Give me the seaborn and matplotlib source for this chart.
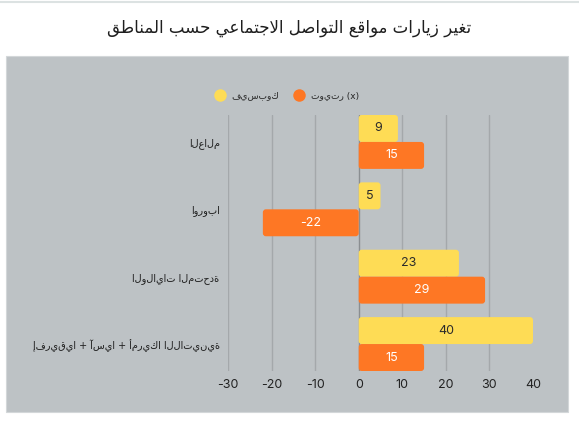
import matplotlib
matplotlib.use("Agg")
import matplotlib.pyplot as plt
import numpy as np
import pandas as pd
import seaborn as sns
from matplotlib.lines import Line2D
from matplotlib.patches import FancyBboxPatch, Rectangle

# Data
regions = ["العالم", "اوروبا", "الولايات المتحدة", "إفريقيا + آسيا + أمريكا اللاتينية"]
series_names = ["فيسبوك", "تويتر (x)"]
facebook = [9, 5, 23, 40]
twitter = [15, -22, 29, 15]
x_ticks = [-30, -20, -10, 0, 10, 20, 30, 40]
title = "تغير زيارات مواقع التواصل الاجتماعي حسب المناطق"

colors = ["#FEDC55", "#FE7724"]
panel_color = "#BDC2C5"

# -------------------------------------------------------------------------
# Minimal Arabic shaping for the title (presentation forms, visual order)
# -------------------------------------------------------------------------
FORMS = {  # isolated, final, initial, medial
    "ا": (0xFE8D, 0xFE8E, None, None), "ب": (0xFE8F, 0xFE90, 0xFE91, 0xFE92),
    "ت": (0xFE95, 0xFE96, 0xFE97, 0xFE98), "ج": (0xFE9D, 0xFE9E, 0xFE9F, 0xFEA0),
    "ح": (0xFEA1, 0xFEA2, 0xFEA3, 0xFEA4), "ر": (0xFEAD, 0xFEAE, None, None),
    "ز": (0xFEAF, 0xFEB0, None, None), "س": (0xFEB1, 0xFEB2, 0xFEB3, 0xFEB4),
    "ص": (0xFEB9, 0xFEBA, 0xFEBB, 0xFEBC), "ط": (0xFEC1, 0xFEC2, 0xFEC3, 0xFEC4),
    "ع": (0xFEC9, 0xFECA, 0xFECB, 0xFECC), "غ": (0xFECD, 0xFECE, 0xFECF, 0xFED0),
    "ق": (0xFED5, 0xFED6, 0xFED7, 0xFED8), "ل": (0xFEDD, 0xFEDE, 0xFEDF, 0xFEE0),
    "م": (0xFEE1, 0xFEE2, 0xFEE3, 0xFEE4), "ن": (0xFEE5, 0xFEE6, 0xFEE7, 0xFEE8),
    "و": (0xFEED, 0xFEEE, None, None), "ي": (0xFEF1, 0xFEF2, 0xFEF3, 0xFEF4),
    "لا": (0xFEFB, 0xFEFC, None, None),
}


def shape_arabic(text):
    words = []
    for word in text.split(" "):
        letters = []
        i = 0
        while i < len(word):
            if word[i] == "ل" and i + 1 < len(word) and word[i + 1] == "ا":
                letters.append("لا")
                i += 2
            else:
                letters.append(word[i])
                i += 1
        out = []
        for j, ch in enumerate(letters):
            f = FORMS.get(ch)
            if f is None:
                out.append(ch)
                continue
            prev_joins = j > 0 and FORMS.get(letters[j - 1], (0, 0, None))[2] is not None
            next_exists = j + 1 < len(letters) and letters[j + 1] in FORMS
            can_join_next = f[2] is not None and next_exists
            if prev_joins and can_join_next:
                code = f[3]
            elif prev_joins:
                code = f[1]
            elif can_join_next:
                code = f[2]
            else:
                code = f[0]
            out.append(chr(code))
        words.append("".join(out)[::-1])
    return " ".join(words[::-1])


df = pd.DataFrame({
    "region": regions * 2,
    "value": facebook + twitter,
    "series": [series_names[0]] * len(regions) + [series_names[1]] * len(regions),
})

sns.set_theme(style="white")
plt.rcParams["font.family"] = ["Inter", "DejaVu Sans"]

fig = plt.figure(figsize=(5.79, 4.29), dpi=100)
fig.patch.set_facecolor("white")

# gray panel behind the chart and faint top rule
fig.add_artist(Rectangle((6 / 579, 1 - 412 / 429), 562 / 579, 356 / 429,
                         transform=fig.transFigure, facecolor=panel_color,
                         edgecolor="#D3D7D9", linewidth=0.8, zorder=-10))
fig.add_artist(Line2D([0, 1], [1 - 2 / 429] * 2, transform=fig.transFigure,
                      color="#DCE2E2", linewidth=1.5, zorder=-10))

ax = fig.add_axes([228 / 579, 1 - 371 / 429, 305 / 579, 256 / 429])
ax.set_facecolor("none")
ax.set_zorder(1)

sns.barplot(data=df, y="region", x="value", hue="series", orient="h",
            palette=colors, width=0.8, ax=ax, legend=False, saturation=1,
            edgecolor="none", zorder=3)

# value labels inside bars
for cont, txt_color in zip(ax.containers, ["#2B2B2B", "white"]):
    ax.bar_label(cont, fmt="%g", label_type="center", color=txt_color,
                 fontsize=9, zorder=5)

# swap plain bars for rounded ones
mutation_aspect = (3.8 / 256) / (70 / 305)
for p in list(ax.patches):
    x0, y0 = p.get_x(), p.get_y()
    w, h = p.get_width(), p.get_height()
    if w < 0:
        x0, w = x0 + w, -w
    rb = FancyBboxPatch((x0, y0), w, h,
                        boxstyle="round,pad=0,rounding_size=0.7",
                        mutation_aspect=mutation_aspect,
                        facecolor=p.get_facecolor(), edgecolor="none", zorder=3)
    p.remove()
    ax.add_patch(rb)

ax.set_xlim(-30, 40)
ax.set_ylim(3.4, -0.4)
for t in x_ticks[:-1]:
    ax.axvline(t, color="#8A8E91" if t == 0 else "#A4A8AB", linewidth=1.0, zorder=1)

ax.set_xticks(x_ticks)
ax.set_xticklabels([str(t) for t in x_ticks], fontsize=9, color="#222222")
ax.set_yticks(range(len(regions)))
ax.set_yticklabels(regions, fontsize=7, color="#1E1E1E", family="DejaVu Sans")
ax.tick_params(axis="both", length=0)
ax.tick_params(axis="x", pad=6)
ax.tick_params(axis="y", pad=6)
ax.set_xlabel("")
ax.set_ylabel("")
sns.despine(ax=ax, left=True, bottom=True)

# legend with round markers
handles = [Line2D([], [], marker="o", linestyle="none", markersize=9,
                  markerfacecolor=c, markeredgecolor="none") for c in colors]
fig.legend(handles, series_names, loc="center", ncol=2, frameon=False,
           bbox_to_anchor=(285 / 579, 1 - 96 / 429), handletextpad=0.3,
           columnspacing=1.2, prop={"family": "DejaVu Sans", "size": 6.5})

fig.text(0.5, 1 - 28 / 429, shape_arabic(title), ha="center", va="center",
         fontsize=12, family="DejaVu Sans", color="#1E1E1E")

fig.savefig("out.png", dpi=100)
